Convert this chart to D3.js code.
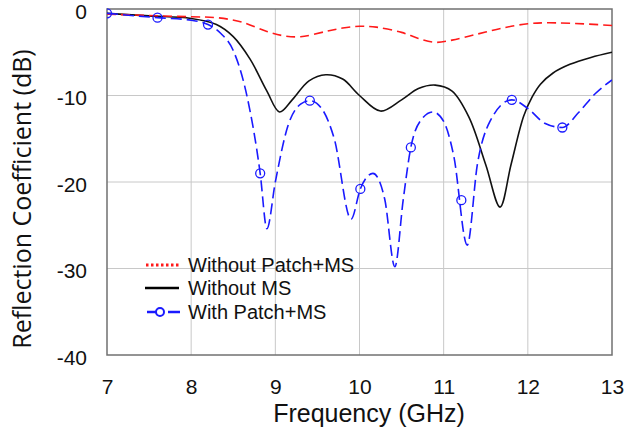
<!DOCTYPE html>
<html><head><meta charset="utf-8">
<script src="https://cdn.jsdelivr.net/npm/d3@7"></script>
<style>body{margin:0;background:#fff}svg{display:block}</style>
</head><body><svg id="c" width="626" height="436"></svg>
<script>
const xTicks = [7, 8, 9, 10, 11, 12, 13];
const yTicks = [0, -10, -20, -30, -40];
const seriesNames = ["Without Patch+MS", "Without MS", "With Patch+MS"];

const redFreq = [7.0, 7.5, 8.0, 8.3, 8.6, 8.9, 9.1, 9.3, 9.6, 9.8, 10.0, 10.2, 10.5, 10.7, 10.9, 11.1, 11.4, 11.7, 12.0, 12.2, 12.5, 13.0];
const redVal  = [-0.6, -0.75, -0.9, -1.0, -1.5, -2.6, -3.1, -3.2, -2.6, -2.2, -2.0, -2.1, -2.7, -3.4, -3.85, -3.6, -2.9, -2.2, -1.7, -1.6, -1.65, -1.9];

const blackFreq = [7.0, 7.5, 8.0, 8.3, 8.5, 8.7, 8.9, 9.05, 9.2, 9.4, 9.6, 9.8, 10.0, 10.25, 10.5, 10.7, 10.9, 11.1, 11.3, 11.5, 11.67, 11.8, 11.95, 12.05, 12.15, 12.3, 12.5, 12.75, 13.0];
const blackVal  = [-0.5, -0.8, -1.1, -1.8, -3.2, -5.8, -9.5, -11.9, -10.5, -8.3, -7.6, -8.1, -10.0, -11.8, -10.5, -9.2, -8.8, -9.5, -12.5, -18, -22.9, -18, -12.4, -10.2, -8.7, -7.4, -6.4, -5.6, -5.0];

const blueFreq = [7.0, 7.6, 8.0, 8.2, 8.35, 8.5, 8.65, 8.82, 8.9, 9.0, 9.15, 9.3, 9.41, 9.55, 9.7, 9.9, 10.01, 10.16, 10.3, 10.42, 10.52, 10.61, 10.75, 10.87, 11.0, 11.12, 11.28, 11.4, 11.55, 11.81, 12.0, 12.2, 12.41, 12.6, 12.8, 13.0];
const blueVal  = [-0.5, -1.0, -1.3, -1.8, -2.8, -4.8, -9.5, -19.0, -25.4, -20, -13.5, -11.0, -10.6, -11.5, -15, -24.3, -20.8, -19.0, -22, -29.8, -22, -16.0, -12.6, -11.9, -13, -17, -27.3, -18, -13, -10.5, -11.5, -13.2, -13.7, -12, -9.8, -8.2];

const markerFreq = [7.0, 7.6, 8.2, 8.82, 9.41, 10.01, 10.61, 11.21, 11.81, 12.41];
const markerVal  = [-0.5, -1.0, -1.8, -19.0, -10.6, -20.8, -16.0, -22.1, -10.5, -13.7];

const SANS = '"Liberation Sans",Arial,sans-serif';
const svg = d3.select("#c");
const x = d3.scaleLinear().domain([7, 13]).range([107, 612]);
const y = d3.scaleLinear().domain([-40, 0]).range([355, 9]);

// grid
svg.append("g").selectAll("line").data(xTicks.slice(1, -1)).join("line")
  .attr("x1", d => x(d)).attr("x2", d => x(d)).attr("y1", y(0)).attr("y2", y(-40))
  .attr("stroke", "#c8c8c8").attr("stroke-width", 1);
svg.append("g").selectAll("line").data(yTicks.slice(1, -1)).join("line")
  .attr("x1", x(7)).attr("x2", x(13)).attr("y1", d => y(d)).attr("y2", d => y(d))
  .attr("stroke", "#c8c8c8").attr("stroke-width", 1);

// axes (labels only)
const xAxis = svg.append("g").attr("transform", `translate(0,${y(-40)})`)
  .call(d3.axisBottom(x).tickValues(xTicks).tickSize(0).tickPadding(24).tickFormat(d3.format("d")));
const yAxis = svg.append("g").attr("transform", `translate(${x(7)},0)`)
  .call(d3.axisLeft(y).tickValues(yTicks).tickSize(0).tickPadding(20).tickFormat(d => d === 0 ? "0" : "-" + Math.abs(d)));
[xAxis, yAxis].forEach(a => {
  a.select(".domain").remove();
  a.selectAll("text").attr("font-size", 21).attr("fill", "#111").style("font-family", SANS);
});
yAxis.selectAll("text").attr("dy", "0.45em");

// frame
svg.append("rect").attr("x", x(7)).attr("y", y(0)).attr("width", x(13) - x(7)).attr("height", y(-40) - y(0))
  .attr("fill", "none").attr("stroke", "#707070").attr("stroke-width", 1.5);

svg.append("clipPath").attr("id", "clp").append("rect")
  .attr("x", x(7)).attr("y", y(0) - 6).attr("width", x(13) - x(7)).attr("height", y(-40) - y(0) + 6);

const smooth = d3.line().x(d => x(d[0])).y(d => y(d[1])).curve(d3.curveCatmullRom.alpha(0.5));
const mono = d3.line().x(d => x(d[0])).y(d => y(d[1])).curve(d3.curveMonotoneX);
const g = svg.append("g").attr("clip-path", "url(#clp)");

g.append("path").datum(d3.zip(blackFreq, blackVal)).attr("d", smooth)
  .attr("fill", "none").attr("stroke", "#111").attr("stroke-width", 1.6);
g.append("path").datum(d3.zip(redFreq, redVal)).attr("d", smooth)
  .attr("fill", "none").attr("stroke", "#ff1a1a").attr("stroke-width", 1.6).attr("stroke-dasharray", "9,5");
g.append("path").datum(d3.zip(blueFreq, blueVal)).attr("d", mono)
  .attr("fill", "none").attr("stroke", "#1a1aff").attr("stroke-width", 1.6).attr("stroke-dasharray", "11,5");
g.append("g").selectAll("circle").data(d3.zip(markerFreq, markerVal)).join("circle")
  .attr("cx", d => x(d[0])).attr("cy", d => y(d[1])).attr("r", 4.5)
  .attr("fill", "none").attr("stroke", "#1a1aff").attr("stroke-width", 1.3);

// legend
const lg = svg.append("g");
const rows = [265, 288, 312];
lg.append("line").attr("x1", 146).attr("x2", 179).attr("y1", rows[0]).attr("y2", rows[0])
  .attr("stroke", "#ff1a1a").attr("stroke-width", 3).attr("stroke-dasharray", "2.5,2.5");
lg.append("line").attr("x1", 145).attr("x2", 179).attr("y1", rows[1]).attr("y2", rows[1])
  .attr("stroke", "#000").attr("stroke-width", 2.5);
lg.append("line").attr("x1", 147).attr("x2", 156).attr("y1", rows[2]).attr("y2", rows[2])
  .attr("stroke", "#1a1aff").attr("stroke-width", 2.5);
lg.append("line").attr("x1", 168).attr("x2", 180).attr("y1", rows[2]).attr("y2", rows[2])
  .attr("stroke", "#1a1aff").attr("stroke-width", 2.5);
lg.append("circle").attr("cx", 160).attr("cy", rows[2]).attr("r", 4)
  .attr("fill", "none").attr("stroke", "#1a1aff").attr("stroke-width", 2);
lg.selectAll("text").data(seriesNames).join("text")
  .attr("x", 188).attr("y", (d, i) => rows[i]).attr("dy", "0.36em")
  .attr("font-size", 20).attr("fill", "#111").style("font-family", SANS).text(d => d);

// axis titles
svg.append("text").attr("x", 369).attr("y", 422).attr("text-anchor", "middle")
  .attr("font-size", 25).attr("fill", "#111").style("font-family", SANS).text("Frequency (GHz)");
svg.append("text").attr("transform", "translate(31,199) rotate(-90)").attr("text-anchor", "middle")
  .style("font-family", '"Open Sans",sans-serif')
  .attr("font-size", 25).attr("fill", "#111").text("Reflection Coefficient (dB)");
</script></body></html>
